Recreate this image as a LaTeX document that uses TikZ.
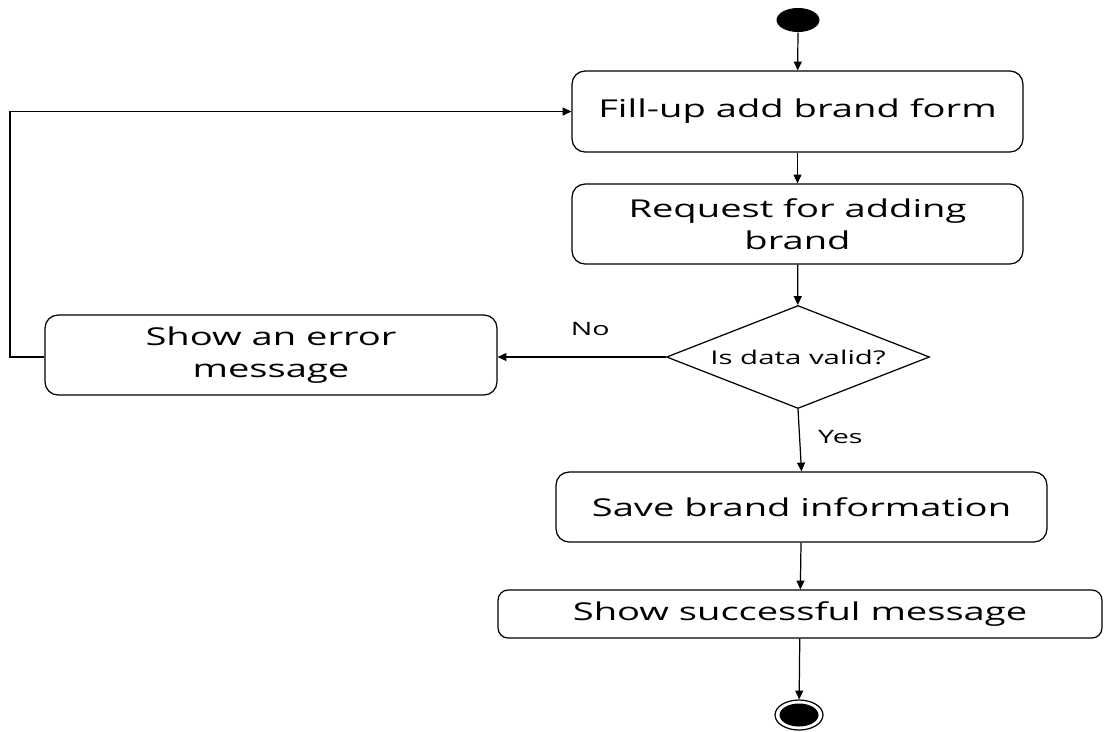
\documentclass[tikz,border=0pt]{standalone}
\usepackage{fontspec}
\setmainfont{Open Sans}[FakeStretch=1.55]
\usetikzlibrary{shapes.geometric,arrows.meta}

\tikzset{
    activity/.style={draw, rounded corners=2.6mm, align=center, inner sep=0pt,
        font=\fontsize{14}{18}\selectfont},
    flow/.style={-{Triangle[length=5pt,width=4.5pt]}},
    small/.style={inner sep=0pt, font=\fontsize{10.5}{13}\selectfont},
}

\begin{document}
\begin{tikzpicture}[x=0.02cm, y=-0.02cm, line width=0.7pt]
            \useasboundingbox (0,0) rectangle (1104,731);
            % start and end states
            \node[ellipse, fill=black, minimum width=8.6mm, minimum height=4.8mm, inner sep=0pt] (init) at (798,20) {};
            \node[ellipse, draw, minimum width=9.6mm, minimum height=6mm, inner sep=0pt] (final) at (799,715) {};
            \node[ellipse, fill=black, minimum width=7.8mm, minimum height=4.6mm, inner sep=0pt] at (final) {};
            % activities
            \node[activity, minimum width=90.2mm, minimum height=16.2mm] (fill) at (797.5,111.5) {Fill-up add brand form};
            \node[activity, minimum width=90.2mm, minimum height=16mm] (request) at (797.5,224) {Request for adding\\brand};
            \node[diamond, draw, aspect=2.55, inner sep=0pt, minimum width=52.6mm, minimum height=20.6mm, small, font=\fontsize{10.8}{13}\selectfont] (valid) at (798,357) {Is data valid?};
            \node[activity, minimum width=90.4mm, minimum height=16mm] (error) at (271,355) {Show an error\\message};
            \node[activity, minimum width=98.2mm, minimum height=14mm] (save) at (801.5,507) {Save brand information};
            \node[activity, rounded corners=2mm, minimum width=120.8mm, minimum height=9.6mm] (success) at (800,614) {Show successful message};
            \coordinate (back) at (10,357);
            % connectors
            \draw[flow] (init) -- (fill);
            \draw[flow] (fill) -- (request);
            \draw[flow] (request) -- (valid);
            \draw[flow] (valid.west) -- (valid.west -| error.east) node[small, pos=0.45, above=4.2mm] {No};
            \draw[flow] (error.west |- back) -- (back) |- (fill.west);
            \draw[flow] (valid.south) -- (save.north) node[small, pos=0.44, right=3.6mm] {Yes};
            \draw[flow] (save) -- (success);
            \draw[flow] (success) -- (final);
        \end{tikzpicture}
\end{document}
